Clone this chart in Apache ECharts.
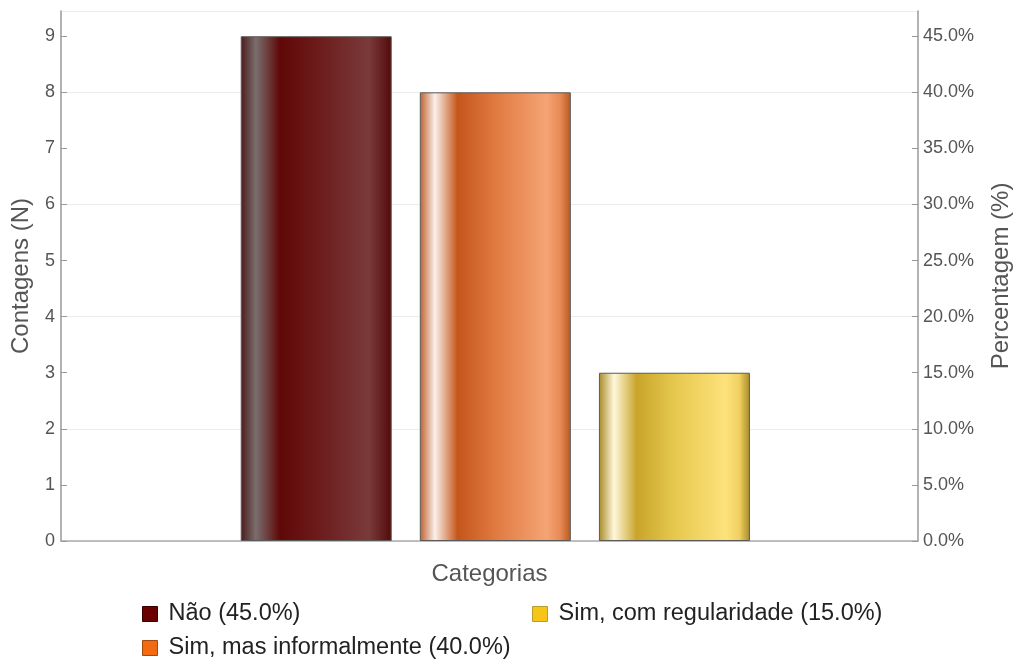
<!DOCTYPE html>
<html>
<head>
<meta charset="utf-8">
<script src="https://cdn.jsdelivr.net/npm/echarts@6/dist/echarts.min.js"></script>
<style>html,body{margin:0;padding:0;background:#fff;}#c{width:1014px;height:660px;}</style>
</head>
<body>
<div id="c"></div>
<script>
const categories = ['Não', 'Sim, mas informalmente', 'Sim, com regularidade'];
const counts = [9, 8, 3];
const percentLabels = ['45.0%', '40.0%', '15.0%'];
const legendColors = ['#6b0000', '#f26a12', '#f5c518'];
const legendBorders = ['#3a0000', '#a04a10', '#b89a30'];
const gradients = [
  [['#4d1a1a',0],['#7a6e6e',0.1],['#600808',0.26],['#6c1a1a',0.5],['#7a3a3a',0.85],['#520a0a',1]],
  [['#c0602e',0],['#faf0ea',0.1],['#c4561a',0.25],['#e07a40',0.5],['#f5a475',0.84],['#e88a55',0.93],['#b85820',1]],
  [['#a88a28',0],['#fff8dc',0.1],['#c9a42a',0.25],['#e6c84e',0.5],['#fde27c',0.84],['#f0d060',0.93],['#a88a2a',1]]
];

const font = 'Liberation Sans, Arial, sans-serif';
const names = categories.map((c, i) => c + ' (' + percentLabels[i] + ')');

const series = categories.map((c, i) => ({
  name: names[i],
  type: 'bar',
  stack: 'all',
  xAxisIndex: 0,
  yAxisIndex: 0,
  barWidth: 151,
  data: [[i, counts[i]]],
  itemStyle: {
    color: {
      type: 'linear', x: 0, y: 0, x2: 1, y2: 0,
      colorStops: gradients[i].map(s => ({color: s[0], offset: s[1]}))
    },
    borderColor: '#5a5a5a',
    borderWidth: 1
  },
  emphasis: {disabled: true}
}));

// legend slots: [left, top] for each category (column-first layout)
const legendSlots = [[142, 602], [142, 636], [532, 602]];
const legends = categories.map((c, i) => ({
  orient: 'horizontal',
  left: legendSlots[i][0],
  top: legendSlots[i][1],
  padding: 0,
  itemWidth: 15, itemHeight: 15,
  icon: 'rect',
  selectedMode: false,
  textStyle: {fontFamily: font, fontSize: 23.5, color: '#222', padding: [0, 0, 0, 6]},
  data: [{name: names[i], itemStyle: {color: legendColors[i], borderColor: legendBorders[i], borderWidth: 1}}]
}));

const chart = echarts.init(document.getElementById('c'), null, {renderer: 'canvas'});
chart.setOption({
  animation: false,
  backgroundColor: '#fff',
  grid: {left: 61, right: 96, top: 11, bottom: 119, containLabel: false, outerBoundsMode: 'none'},
  xAxis: [{
    type: 'value',
    min: -1.425, max: 3.36,
    name: 'Categorias',
    nameLocation: 'middle',
    nameGap: 21,
    nameTextStyle: {fontFamily: font, fontSize: 24, color: '#555', verticalAlign: 'top'},
    axisLine: {show: true, onZero: false, lineStyle: {color: '#aaa', width: 1.5}},
    axisTick: {show: true, inside: true, length: 5, customValues: [0, 1, 2], lineStyle: {color: '#999'}},
    axisLabel: {show: false},
    splitLine: {show: false}
  }],
  yAxis: [{
    type: 'value', min: 0, max: 9.45, interval: 1,
    position: 'left',
    name: 'Contagens (N)',
    nameLocation: 'middle',
    nameGap: 28,
    nameTextStyle: {fontFamily: font, fontSize: 24, color: '#555'},
    axisLine: {show: true, onZero: false, lineStyle: {color: '#999', width: 1.5}},
    axisTick: {show: true, inside: true, length: 6, customValues: [0,1,2,3,4,5,6,7,8,9], lineStyle: {color: '#999'}},
    axisLabel: {showMaxLabel: false, fontFamily: font, fontSize: 18, color: '#555', margin: 6,
      formatter: v => (v > 9.2 ? '' : String(v))},
    splitLine: {show: false}
  }, {
    type: 'value', min: 0, max: 47.25, interval: 5,
    position: 'right',
    name: 'Percentagem (%)',
    nameLocation: 'middle',
    nameGap: 71,
    nameTextStyle: {fontFamily: font, fontSize: 24, color: '#555'},
    axisLine: {show: true, onZero: false, lineStyle: {color: '#999', width: 1.5}},
    axisTick: {show: true, inside: true, length: 6, customValues: [0,5,10,15,20,25,30,35,40,45], lineStyle: {color: '#999'}},
    axisLabel: {showMaxLabel: false, fontFamily: font, fontSize: 18, color: '#555', margin: 5,
      formatter: v => (v > 46 ? '' : v.toFixed(1) + '%')},
    splitLine: {show: false}
  }, {
    type: 'value', min: 0, max: 9.45, interval: 2,
    position: 'left',
    axisLine: {show: false, onZero: false}, axisTick: {show: false}, axisLabel: {show: false},
    splitLine: {show: true, lineStyle: {color: '#ececec', width: 1}}
  }],
  legend: legends,
  series: series
});
</script>
</body>
</html>
